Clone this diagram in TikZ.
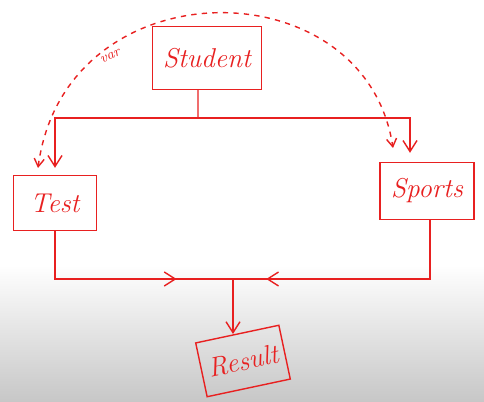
\documentclass[tikz,border=0pt]{standalone}
\usetikzlibrary{arrows.meta,decorations.markings}
\definecolor{pen}{RGB}{232,32,32}
\tikzset{
  box/.style={draw=pen, text=pen, line width=0.8pt, inner sep=0pt,
    font=\fontsize{15.5}{17}\selectfont\itshape},
  wire/.style={draw=pen, line width=0.8pt},
  tip/.style={-{Straight Barb[length=2.2mm,width=2.8mm]}},
  midtip/.style={postaction={decorate}, decoration={markings,
    mark=at position #1 with {\arrow[pen]{Straight Barb[length=2.2mm,width=2.8mm]}}}}
}
\begin{document}
\begin{tikzpicture}[x=0.02cm,y=-0.02cm]
  \useasboundingbox (0,0) rectangle (484,402);
  \fill[white] (0,0) rectangle (484,402);
  \shade[top color=white, bottom color=black!22] (0,265) rectangle (484,402);
  \draw
    (207,58) node[box, minimum width=2.18cm, minimum height=1.26cm] (student){Student}
    (55,203) node[box, minimum width=1.66cm, minimum height=1.1cm] (test){Test}
    (427,191) node[box, minimum width=1.88cm, minimum height=1.14cm] (sports){Sports}
    (243,361) node[box, minimum width=1.7cm, minimum height=1.1cm, rotate=12] (result){Result};
  \coordinate (branch) at (198,118);
  \coordinate (join) at (233,279);
  \coordinate (arcL) at (38,168);
  \coordinate (arcR) at (393,148);
  \begin{scope}[wire]
    \draw ([xshift=-0.18cm]student.south) -- (branch);
    \draw[tip, shorten >=0.14cm] (branch) -| (test.north);
    \draw[tip, shorten >=0.18cm] (branch) -| ([xshift=-0.34cm]sports.north);
    \draw[midtip=0.75] (test.south) |- (join);
    \draw[midtip=0.87] ([xshift=0.06cm]sports.south) |- (join);
    \draw[tip] (join) -- (join |- 0,334);
    \draw[dashed, {Straight Barb[length=1.6mm,width=2mm]}-{Straight Barb[length=1.6mm,width=2mm]}]
      (arcL) .. controls (65,-35) and (365,-35) .. (arcR)
      node[pos=0.22, right=3pt, rotate=25, text=pen, font=\footnotesize\itshape] (varlabel){var};
  \end{scope}
\end{tikzpicture}
\end{document}
